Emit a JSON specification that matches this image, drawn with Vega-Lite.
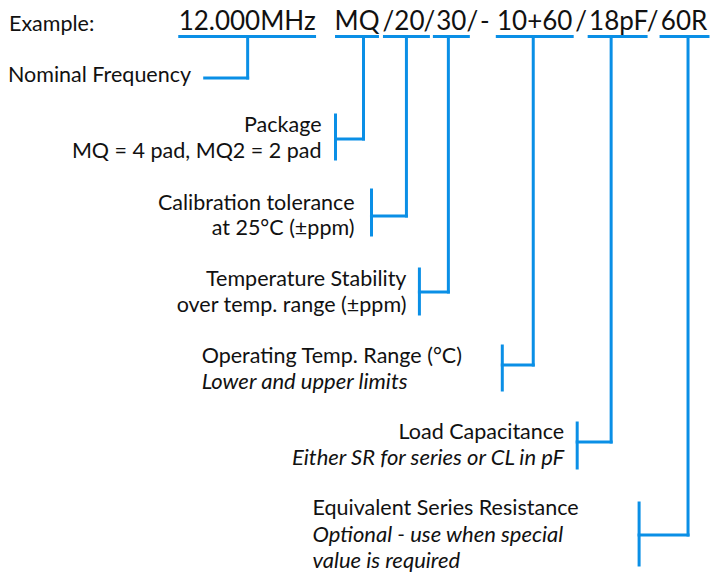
{
  "$schema": "https://vega.github.io/schema/vega-lite/v6.json",
  "width": 711,
  "height": 572,
  "padding": 0,
  "autosize": {"type": "fit", "contains": "padding"},
  "background": "white",
  "config": {"view": {"stroke": null}},
  "datasets": {
    "lines": [
      {"x": 180, "y": 36.5, "x2": 315, "y2": 36.5},
      {"x": 337, "y": 36.5, "x2": 378, "y2": 36.5},
      {"x": 385, "y": 36.5, "x2": 429, "y2": 36.5},
      {"x": 435, "y": 36.5, "x2": 469, "y2": 36.5},
      {"x": 498, "y": 36.5, "x2": 573, "y2": 36.5},
      {"x": 590, "y": 36.5, "x2": 647, "y2": 36.5},
      {"x": 662, "y": 36.5, "x2": 709, "y2": 36.5},
      {"x": 248, "y": 36.5, "x2": 248, "y2": 78},
      {"x": 205, "y": 78, "x2": 248, "y2": 78},
      {"x": 364, "y": 36.5, "x2": 364, "y2": 139},
      {"x": 336, "y": 139, "x2": 364, "y2": 139},
      {"x": 336, "y": 115, "x2": 336, "y2": 159},
      {"x": 407, "y": 36.5, "x2": 407, "y2": 216},
      {"x": 372, "y": 216, "x2": 407, "y2": 216},
      {"x": 372, "y": 190, "x2": 372, "y2": 235},
      {"x": 449, "y": 36.5, "x2": 449, "y2": 292},
      {"x": 420, "y": 292, "x2": 449, "y2": 292},
      {"x": 420, "y": 269, "x2": 420, "y2": 314},
      {"x": 534, "y": 36.5, "x2": 534, "y2": 365},
      {"x": 503, "y": 365, "x2": 534, "y2": 365},
      {"x": 503, "y": 346, "x2": 503, "y2": 390},
      {"x": 612, "y": 36.5, "x2": 612, "y2": 442},
      {"x": 578, "y": 442, "x2": 612, "y2": 442},
      {"x": 578, "y": 423, "x2": 578, "y2": 468},
      {"x": 689, "y": 36.5, "x2": 689, "y2": 535},
      {"x": 640, "y": 535, "x2": 689, "y2": 535},
      {"x": 640, "y": 503, "x2": 640, "y2": 565}
    ],
    "header": [
      {"x": 247.5, "y": 30, "text": "12.000MHz"},
      {"x": 357.5, "y": 30, "text": "MQ"},
      {"x": 389, "y": 30, "text": "/"},
      {"x": 410, "y": 30, "text": "20"},
      {"x": 430, "y": 30, "text": "/"},
      {"x": 452, "y": 30, "text": "30"},
      {"x": 473, "y": 30, "text": "/"},
      {"x": 485.5, "y": 30, "text": "-"},
      {"x": 535.5, "y": 30, "text": "10+60"},
      {"x": 582, "y": 30, "text": "/"},
      {"x": 619.5, "y": 30, "text": "18pF"},
      {"x": 653.5, "y": 30, "text": "/"},
      {"x": 685, "y": 30, "text": "60R"}
    ],
    "rightNormal": [
      {"x": 322, "y": 132, "text": "Package"},
      {"x": 322, "y": 158, "text": "MQ = 4 pad, MQ2 = 2 pad"},
      {"x": 355, "y": 210, "text": "Calibration tolerance"},
      {"x": 355, "y": 235, "text": "at 25°C (±ppm)"},
      {"x": 407, "y": 286, "text": "Temperature Stability"},
      {"x": 407, "y": 312, "text": "over temp. range (±ppm)"},
      {"x": 565, "y": 439, "text": "Load Capacitance"}
    ],
    "rightItalic": [
      {"x": 565, "y": 465, "text": "Either SR for series or CL in pF"}
    ],
    "leftNormal": [
      {"x": 9, "y": 31, "text": "Example:"},
      {"x": 8, "y": 82, "text": "Nominal Frequency"},
      {"x": 202, "y": 363, "text": "Operating Temp. Range (°C)"},
      {"x": 313, "y": 515, "text": "Equivalent Series Resistance"}
    ],
    "leftItalic": [
      {"x": 202, "y": 389, "text": "Lower and upper limits"},
      {"x": 313, "y": 542, "text": "Optional - use when special"},
      {"x": 313, "y": 568, "text": "value is required"}
    ]
  },
  "layer": [
    {
      "data": {"name": "lines"},
      "mark": {"type": "rule", "color": "#0a8fe6", "strokeWidth": 3, "strokeCap": "square"},
      "encoding": {
        "x": {"field": "x", "type": "quantitative", "scale": {"domain": [0, 711], "nice": false, "zero": false}, "axis": null},
        "y": {"field": "y", "type": "quantitative", "scale": {"domain": [0, 572], "nice": false, "zero": false, "reverse": true}, "axis": null},
        "x2": {"field": "x2"},
        "y2": {"field": "y2"}
      }
    },
    {
      "data": {"name": "header"},
      "mark": {"type": "text", "align": "center", "baseline": "alphabetic", "font": "Lato", "fontSize": 26, "color": "#111111"},
      "encoding": {
        "x": {"field": "x", "type": "quantitative"},
        "y": {"field": "y", "type": "quantitative"},
        "text": {"field": "text"}
      }
    },
    {
      "data": {"name": "rightNormal"},
      "mark": {"type": "text", "align": "right", "baseline": "alphabetic", "font": "Lato", "fontSize": 21.5, "color": "#111111"},
      "encoding": {
        "x": {"field": "x", "type": "quantitative"},
        "y": {"field": "y", "type": "quantitative"},
        "text": {"field": "text"}
      }
    },
    {
      "data": {"name": "rightItalic"},
      "mark": {"type": "text", "align": "right", "baseline": "alphabetic", "font": "Lato", "fontStyle": "italic", "fontSize": 22, "color": "#111111"},
      "encoding": {
        "x": {"field": "x", "type": "quantitative"},
        "y": {"field": "y", "type": "quantitative"},
        "text": {"field": "text"}
      }
    },
    {
      "data": {"name": "leftNormal"},
      "mark": {"type": "text", "align": "left", "baseline": "alphabetic", "font": "Lato", "fontSize": 21.5, "color": "#111111"},
      "encoding": {
        "x": {"field": "x", "type": "quantitative"},
        "y": {"field": "y", "type": "quantitative"},
        "text": {"field": "text"}
      }
    },
    {
      "data": {"name": "leftItalic"},
      "mark": {"type": "text", "align": "left", "baseline": "alphabetic", "font": "Lato", "fontStyle": "italic", "fontSize": 22, "color": "#111111"},
      "encoding": {
        "x": {"field": "x", "type": "quantitative"},
        "y": {"field": "y", "type": "quantitative"},
        "text": {"field": "text"}
      }
    }
  ]
}
